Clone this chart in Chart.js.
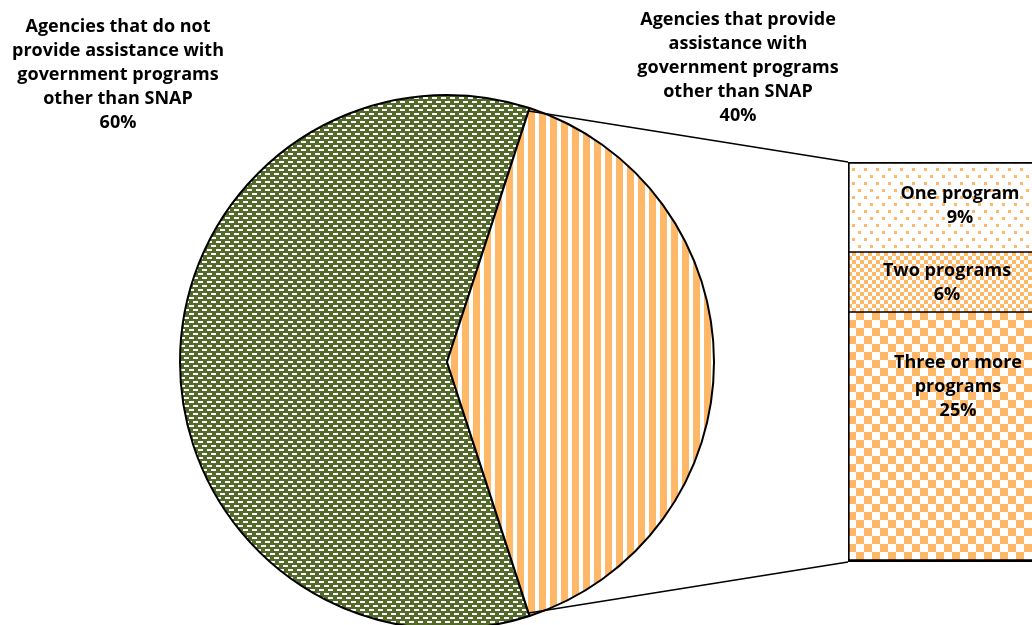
<!DOCTYPE html>
<html>
<head>
<meta charset="utf-8">
<script src="https://cdn.jsdelivr.net/npm/chart.js@4.4.1/dist/chart.umd.min.js"></script>
<style>
  html, body { margin: 0; padding: 0; background: #fff; overflow: hidden; }
  #wrap { position: relative; width: 1032px; height: 625px; }
  #wrap canvas { position: absolute; left: 0; top: 0; }
</style>
</head>
<body>
<div id="wrap">
  <canvas id="pie" width="1032" height="625"></canvas>
  <canvas id="bar" width="1032" height="625"></canvas>
</div>
<script>
// Pie: share of agencies by help with non-SNAP government programs
const pieLabels = [
  ['Agencies that do not', 'provide assistance with', 'government programs', 'other than SNAP'],
  ['Agencies that provide', 'assistance with', 'government programs', 'other than SNAP']
];
const pieValues = [60, 40];

// Breakdown of the 40% slice, top to bottom
const barLabels = [['One program'], ['Two programs'], ['Three or more', 'programs']];
const barValues = [9, 6, 25];

const FONT = '700 18px "Open Sans", "Liberation Sans", sans-serif';
const LINE_H = 24;
const OLIVE = '#536A2A';
const ORANGE = '#FFB867';

function makePattern(ctx, w, h, bg, fg, shapes) {
  const c = document.createElement('canvas');
  c.width = w; c.height = h;
  const g = c.getContext('2d');
  g.fillStyle = bg; g.fillRect(0, 0, w, h);
  g.fillStyle = fg;
  shapes.forEach(s => g.fillRect(s[0], s[1], s[2], s[3]));
  return ctx.createPattern(c, 'repeat');
}

const pieCtx = document.getElementById('pie').getContext('2d');
const barCtx = document.getElementById('bar').getContext('2d');

// olive with staggered white dashes
const dashPat = makePattern(pieCtx, 9, 8, OLIVE, '#ffffff',
  [[0, 1, 5, 2], [4, 5, 5, 2]]);
// vertical orange stripes
const stripePat = makePattern(pieCtx, 11, 4, '#ffffff', ORANGE, [[0, 0, 7, 4]]);
// sparse orange dots
const dotPat = makePattern(barCtx, 12, 14, '#ffffff', ORANGE, [[0, 0, 3, 3], [6, 7, 3, 3]]);
// small checkerboard
const smallCheck = makePattern(barCtx, 8, 8, '#ffffff', ORANGE, [[0, 0, 4, 4], [4, 4, 4, 4]]);
// large checkerboard
const bigCheck = makePattern(barCtx, 16, 16, '#ffffff', ORANGE, [[0, 0, 8, 8], [8, 8, 8, 8]]);

function drawLines(ctx, lines, x, y) {
  ctx.save();
  ctx.font = FONT;
  ctx.fillStyle = '#000';
  ctx.textAlign = 'center';
  ctx.textBaseline = 'middle';
  lines.forEach((t, i) => ctx.fillText(t, x, y + i * LINE_H));
  ctx.restore();
}

// category captions placed around the pie
const pieLabelPos = [{ dx: -329, dy: -335 }, { dx: 291, dy: -342 }];
const pieLabelPlugin = {
  id: 'pieLabels',
  afterDraw(chart) {
    const arcs = chart.getDatasetMeta(0).data;
    arcs.forEach((arc, i) => {
      const lines = pieLabels[i].concat([pieValues[i] + '%']);
      drawLines(chart.ctx, lines, arc.x + pieLabelPos[i].dx, arc.y + pieLabelPos[i].dy);
    });
  }
};

const pieChart = new Chart(pieCtx, {
  type: 'pie',
  data: {
    labels: pieLabels,
    datasets: [{
      data: pieValues,
      backgroundColor: [dashPat, stripePat],
      borderColor: '#000',
      borderWidth: 2,
      clip: false
    }]
  },
  options: {
    responsive: false,
    animation: false,
    devicePixelRatio: 1,
    rotation: 162,
    radius: 267,
    layout: { padding: { left: 0, right: 138, top: 99, bottom: 0 } },
    plugins: { legend: { display: false }, tooltip: { enabled: false } }
  },
  plugins: [pieLabelPlugin]
});

// label nudges inside the bar segments
const barLabelShift = [{ dx: 20, dy: -1 }, { dx: 7, dy: 1 }, { dx: 18, dy: -50 }];

const barPlugin = {
  id: 'barExtras',
  afterDraw(chart) {
    const ctx = chart.ctx;
    const y = chart.scales.y;
    const total = barValues.reduce((a, b) => a + b, 0);
    const first = chart.getDatasetMeta(0).data[0];
    const left = first.x - first.width / 2;
    const topY = y.getPixelForValue(0);
    const botY = y.getPixelForValue(total);

    // connectors from the 40% slice edges to the bar corners
    const arc = pieChart.getDatasetMeta(0).data[1];
    const r = arc.outerRadius - 3;
    const p1 = [arc.x + r * Math.cos(arc.startAngle), arc.y + r * Math.sin(arc.startAngle)];
    const p2 = [arc.x + r * Math.cos(arc.endAngle), arc.y + r * Math.sin(arc.endAngle)];
    ctx.save();
    ctx.strokeStyle = '#000';
    ctx.lineWidth = 1.6;
    ctx.beginPath();
    ctx.moveTo(p1[0], p1[1]); ctx.lineTo(left, topY);
    ctx.moveTo(p2[0], p2[1]); ctx.lineTo(left, botY);
    ctx.stroke();
    ctx.restore();

    // segment captions
    let acc = 0;
    barValues.forEach((v, i) => {
      const el = chart.getDatasetMeta(i).data[0];
      const mid = y.getPixelForValue(acc + v / 2);
      acc += v;
      const lines = barLabels[i].concat([v + '%']);
      const h = (lines.length - 1) * LINE_H;
      drawLines(ctx, lines, el.x + barLabelShift[i].dx, mid - h / 2 + barLabelShift[i].dy);
    });
  }
};

const barFills = [dotPat, smallCheck, bigCheck];
const barChart = new Chart(barCtx, {
  type: 'bar',
  data: {
    labels: [''],
    datasets: barValues.map((v, i) => ({
      label: barLabels[i].join(' '),
      data: [v],
      backgroundColor: barFills[i],
      borderColor: '#000',
      borderSkipped: false,
      borderWidth: {
        left: 2,
        right: 0,
        top: i === 0 ? 2 : 1,
        bottom: i === barValues.length - 1 ? 3 : 1
      },
      barPercentage: 1,
      categoryPercentage: 1
    }))
  },
  options: {
    responsive: false,
    animation: false,
    devicePixelRatio: 1,
    layout: { padding: { left: 848, right: 0, top: 162, bottom: 63 } },
    scales: {
      x: { display: false, stacked: true },
      y: { display: false, stacked: true, reverse: true, min: 0, max: 40 }
    },
    plugins: { legend: { display: false }, tooltip: { enabled: false } }
  },
  plugins: [barPlugin]
});
</script>
</body>
</html>
